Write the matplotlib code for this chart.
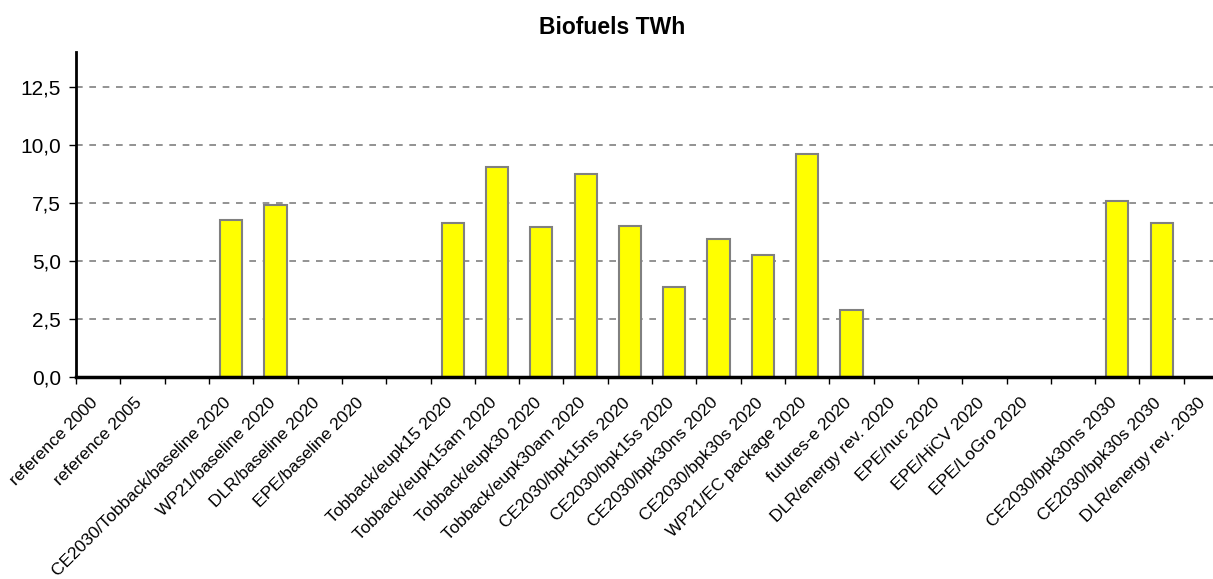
import matplotlib.pyplot as plt
from matplotlib.ticker import FuncFormatter, FixedLocator
from matplotlib.transforms import ScaledTranslation
import numpy as np

plt.rcParams['font.family'] = ['Liberation Sans', 'DejaVu Sans']

# Scenario categories; empty strings are spacer slots between groups
categories = [
    'reference 2000', 'reference 2005', '',
    'CE2030/Tobback/baseline 2020', 'WP21/baseline 2020', 'DLR/baseline 2020',
    'EPE/baseline 2020', '',
    'Tobback/eupk15 2020', 'Tobback/eupk15am 2020', 'Tobback/eupk30 2020',
    'Tobback/eupk30am 2020', 'CE2030/bpk15ns 2020', 'CE2030/bpk15s 2020',
    'CE2030/bpk30ns 2020', 'CE2030/bpk30s 2020', 'WP21/EC package 2020',
    'futures-e 2020', 'DLR/energy rev. 2020', 'EPE/nuc 2020', 'EPE/HiCV 2020',
    'EPE/LoGro 2020', '',
    'CE2030/bpk30ns 2030', 'CE2030/bpk30s 2030', 'DLR/energy rev. 2030',
]

# Biofuels in TWh (nan = no value reported)
nan = np.nan
biofuels_twh = [
    nan, nan, nan,
    6.77, 7.43, nan, nan, nan,
    6.63, 9.06, 6.44, 8.75, 6.50, 3.88, 5.94, 5.25, 9.61, 2.89,
    nan, nan, nan, nan, nan,
    7.60, 6.63, nan,
]

fig = plt.figure(figsize=(12.13, 5.79), dpi=100)
ax = fig.add_axes([0.0627, 0.3489, 0.9497, 0.5613])

x = np.arange(len(categories))
vals = np.array(biofuels_twh, dtype=float)
has = ~np.isnan(vals)
ax.bar(x[has], vals[has], width=0.5, color='#ffff00',
       edgecolor='#808080', linewidth=1.5, zorder=3)

ax.set_xlim(-0.5, len(categories) - 0.5)
ax.set_ylim(0, 14)

# y axis
ax.set_yticks([0, 2.5, 5, 7.5, 10, 12.5])
ax.yaxis.set_major_formatter(FuncFormatter(lambda v, p: f'{v:.1f}'.replace('.', ',')))
ax.tick_params(axis='y', labelsize=15, length=5, width=1, direction='out', pad=6)
ax.yaxis.grid(True, linestyle=(0, (4, 4)), color='#808080', linewidth=1.2, zorder=0)

# x axis: labels at slot centres, tick marks on slot boundaries
ax.set_xticks(x)
ax.set_xticklabels(categories, rotation=45, ha='right', va='top',
                   rotation_mode='anchor', fontsize=12.5)
ax.tick_params(axis='x', which='major', length=0, pad=13)
ax.xaxis.set_minor_locator(FixedLocator(np.arange(-0.5, len(categories), 1.0)))
ax.tick_params(axis='x', which='minor', length=5, width=1, direction='out')

# nudge the slanted labels so they end right under their slot
shift = ScaledTranslation(-0.08, 0, fig.dpi_scale_trans)
for lbl in ax.get_xticklabels():
    lbl.set_transform(lbl.get_transform() + shift)

for side in ('top', 'right'):
    ax.spines[side].set_visible(False)
ax.spines['left'].set_linewidth(2)
ax.spines['bottom'].set_linewidth(2.5)
ax.spines['bottom'].set_zorder(4)

fig.text(0.505, 0.953, 'Biofuels TWh', ha='center', va='center',
         fontsize=16.5, fontweight='bold')

fig.savefig('out.png', dpi=100)
